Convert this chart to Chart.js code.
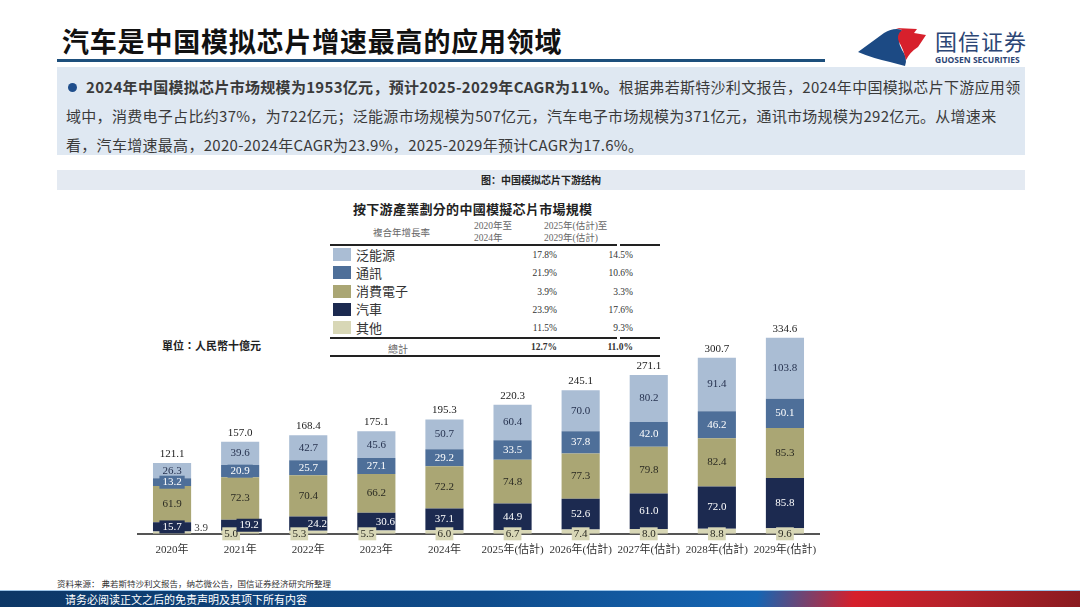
<!DOCTYPE html>
<html>
<head>
<meta charset="utf-8">
<script src="https://cdn.jsdelivr.net/npm/chart.js@4"></script>
<style>
  html, body { margin: 0; padding: 0; background: #fff; }
  body { width: 1080px; height: 607px; position: relative; overflow: hidden; font-family: "Noto Sans CJK SC", sans-serif; }
  .abs { position: absolute; white-space: nowrap; }
  #title { left: 62px; top: 21px; font-size: 27px; font-weight: bold; color: #111; letter-spacing: 0.8px; }
  #rule { left: 57px; top: 59px; width: 768px; height: 3px; background: #1d4f7c; }
  #brand { left: 935px; top: 24px; font-size: 22px; color: #2c4675; letter-spacing: 1px; }
  #brandEn { left: 935px; top: 54px; font-size: 8.5px; font-weight: bold; color: #2c4675; font-family: "Open Sans", sans-serif; }
  #box { left: 57px; top: 67px; width: 968px; height: 88px; background: #dfe8f2; }
  .line { left: 68px; font-size: 15px; color: #3a3a3a; letter-spacing: 0.3px; }
  .dot { display: inline-block; width: 9px; height: 9px; border-radius: 50%; background: #1f4e8c; margin-right: 9px; vertical-align: 1px; }
  #cap { left: 57px; top: 170px; width: 968px; height: 20px; background: #e4eaf2; font-size: 10px; font-weight: bold; color: #222; text-align: center; line-height: 20px; }
  .serif { font-family: "Liberation Serif", "Noto Sans CJK TC", serif; }
  #ctitle { left: 353px; top: 199px; font-size: 13px; font-weight: bold; color: #222; letter-spacing: 0.3px; }
  .hdr { font-size: 9.5px; color: #666; line-height: 12px; }
  .hr { position: absolute; height: 2px; background: #222; }
  .sw { position: absolute; left: 333px; width: 18px; height: 13px; }
  .lab { left: 356px; font-size: 13px; color: #333; line-height: 16px; }
  .v1, .v2 { font-size: 9.5px; color: #333; text-align: right; width: 60px; line-height: 14px; }
  .v1 { left: 497px; }
  .v2 { left: 573px; }
  #unit { left: 162px; top: 337px; font-size: 11px; font-weight: bold; color: #222; }
  #src { left: 57px; top: 577px; font-size: 8.5px; color: #333; }
  #foot { left: 0; top: 590px; width: 1080px; height: 17px;
    background: linear-gradient(100deg, #0d3766 0%, #0f4c8c 45%, #1565b3 70%, #d61f2b 79%, #b5222b 88%, #8a1b20 100%);
    border-top: 1px solid #9cc4e8; }
  #footTxt { left: 65px; top: 591px; font-size: 11px; color: #fff; line-height: 16px; }
  #chartWrap { position: absolute; left: 130px; top: 300px; width: 700px; height: 276px; }
</style>
</head>
<body>
<div id="title" class="abs">汽车是中国模拟芯片增速最高的应用领域</div>
<div id="rule" class="abs"></div>
<svg class="abs" style="left:0;top:0" width="1080" height="80">
  <path d="M858 52 L884 33 Q894 27 902 30 Q896 40 902 50 Q908 58 905 66 L890 62 Q872 58 858 52 Z" fill="#1c4a84"/>
  <path d="M896 28 L917 29 L914 33 L926 35 L918 47 Q910 52 906 60 Q903 48 899 42 Q896 35 902 30 Z" fill="#d7202c"/>
</svg>
<div id="brand" class="abs">国信证券</div>
<div id="brandEn" class="abs">GUOSEN SECURITIES</div>

<div id="box" class="abs"></div>
<div class="abs line" style="top:76px"><span class="dot"></span><b>2024年中国模拟芯片市场规模为1953亿元，预计2025-2029年CAGR为11%。</b>根据弗若斯特沙利文报告，2024年中国模拟芯片下游应用领</div>
<div class="abs line" style="top:105px; left:66px">域中，消费电子占比约37%，为722亿元；泛能源市场规模为507亿元，汽车电子市场规模为371亿元，通讯市场规模为292亿元。从增速来</div>
<div class="abs line" style="top:134px; left:66px">看，汽车增速最高，2020-2024年CAGR为23.9%，2025-2029年预计CAGR为17.6%。</div>

<div id="cap" class="abs">图：中国模拟芯片下游结构</div>

<div id="ctitle" class="abs serif">按下游產業劃分的中國模擬芯片市場規模</div>
<div class="abs hdr" style="left:373px;top:226px">複合年增長率</div>
<div class="abs hdr serif" style="left:474px;top:220px">2020年至<br>2024年</div>
<div class="abs hdr serif" style="left:544px;top:220px">2025年(估計)至<br>2029年(估計)</div>
<div class="hr" style="left:330px;top:244px;width:287px"></div>
<div class="hr" style="left:620px;top:244px;width:40px"></div>
<div id="legendRows"></div>
<div class="hr" style="left:330px;top:337px;width:287px"></div>
<div class="hr" style="left:620px;top:337px;width:40px"></div>
<div class="abs serif" style="left:388px;top:341px;font-size:10px;color:#666">總計</div>
<div class="abs serif v1" style="top:340px;font-weight:bold" id="tot1"></div>
<div class="abs serif v2" style="top:340px;font-weight:bold" id="tot2"></div>
<div class="hr" style="left:330px;top:355px;width:330px"></div>

<div id="unit" class="abs serif">單位：人民幣十億元</div>

<div id="chartWrap"><canvas id="marketChart"></canvas></div>

<div id="src" class="abs">资料来源： 弗若斯特沙利文报告，纳芯微公告，国信证券经济研究所整理</div>
<div id="foot" class="abs"></div>
<div id="footTxt" class="abs">请务必阅读正文之后的免责声明及其项下所有内容</div>

<script>
// 年份 / 类别
const years = ["2020年", "2021年", "2022年", "2023年", "2024年",
  "2025年(估計)", "2026年(估計)", "2027年(估計)", "2028年(估計)", "2029年(估計)"];

// 各下游市场规模（十亿元）
const otherVals = [3.9, 5.0, 5.3, 5.5, 6.0, 6.7, 7.4, 8.0, 8.8, 9.6];
const autoVals = [15.7, 19.2, 24.2, 30.6, 37.1, 44.9, 52.6, 61.0, 72.0, 85.8];
const consumerVals = [61.9, 72.3, 70.4, 66.2, 72.2, 74.8, 77.3, 79.8, 82.4, 85.3];
const commVals = [13.2, 20.9, 25.7, 27.1, 29.2, 33.5, 37.8, 42.0, 46.2, 50.1];
const energyVals = [26.3, 39.6, 42.7, 45.6, 50.7, 60.4, 70.0, 80.2, 91.4, 103.8];
const totalVals = [121.1, 157.0, 168.4, 175.1, 195.3, 220.3, 245.1, 271.1, 300.7, 334.6];

// 图例表格：从上到下
const legendNames = ["泛能源", "通訊", "消費電子", "汽車", "其他"];
const cagr2020to2024 = ["17.8%", "21.9%", "3.9%", "23.9%", "11.5%"];
const cagr2025to2029 = ["14.5%", "10.6%", "3.3%", "17.6%", "9.3%"];
const cagrTotal = ["12.7%", "11.0%"];

const colors = {
  "泛能源": "#aabdd4",
  "通訊": "#4e6f99",
  "消費電子": "#aaa674",
  "汽車": "#1c2a50",
  "其他": "#d8d7b6"
};
const labelColors = {
  "泛能源": "#26324f",
  "通訊": "#ffffff",
  "消費電子": "#2a2a22",
  "汽車": "#ffffff",
  "其他": "#2a2a22"
};

// 表格行
const rowsEl = document.getElementById("legendRows");
legendNames.forEach(function (name, i) {
  const top = 247 + i * 18.3;
  rowsEl.insertAdjacentHTML("beforeend",
    '<div class="sw" style="top:' + (top + 1) + 'px;background:' + colors[name] + '"></div>' +
    '<div class="abs lab" style="top:' + (top - 0.5) + 'px">' + name + '</div>' +
    '<div class="abs serif v1" style="top:' + (top + 1) + 'px">' + cagr2020to2024[i] + '</div>' +
    '<div class="abs serif v2" style="top:' + (top + 1) + 'px">' + cagr2025to2029[i] + '</div>');
});
document.getElementById("tot1").textContent = cagrTotal[0];
document.getElementById("tot2").textContent = cagrTotal[1];

// 数据标签
const labelPlugin = {
  id: "segLabels",
  afterDatasetsDraw(chart) {
    const ctx = chart.ctx;
    ctx.save();
    ctx.font = '11px "Liberation Serif", serif';
    ctx.textAlign = "center";
    ctx.textBaseline = "middle";
    chart.data.datasets.forEach(function (ds, di) {
      const meta = chart.getDatasetMeta(di);
      meta.data.forEach(function (bar, i) {
        const text = ds.data[i].toFixed(1);
        const name = ds.label;
        const h = bar.base - bar.y;
        const tw = ctx.measureText(text).width;
        let x = bar.x;
        let y = (bar.y + bar.base) / 2;
        const autoSmall = autoVals[i] < 32 && i > 0;
        if (name === "其他") {
          if (i === 0) {
            x = bar.x + bar.width / 2 + 10;
            y = bar.base - 6;
            ctx.fillStyle = "#444";
            ctx.fillText(text, x, y);
            return;
          }
          if (autoSmall) x -= 9;
          y = bar.base;
          ctx.fillStyle = colors[name];
          ctx.fillRect(x - tw / 2 - 2, y - 6.5, tw + 4, 13);
        } else if (name === "汽車" && autoSmall) {
          x += 9;
        }
        if (name !== "其他" && h < 14) {
          ctx.fillStyle = colors[name];
          ctx.fillRect(x - tw / 2 - 3, y - 6.5, tw + 6, 13);
        }
        ctx.fillStyle = labelColors[name];
        ctx.fillText(text, x, y);
      });
    });
    // 合计
    const top = chart.getDatasetMeta(chart.data.datasets.length - 1);
    ctx.fillStyle = "#222";
    top.data.forEach(function (bar, i) {
      ctx.fillText(totalVals[i].toFixed(1), bar.x, bar.y - 9);
    });
    ctx.restore();
  }
};

const stackOrder = ["其他", "汽車", "消費電子", "通訊", "泛能源"];
const seriesVals = {
  "其他": otherVals,
  "汽車": autoVals,
  "消費電子": consumerVals,
  "通訊": commVals,
  "泛能源": energyVals
};

new Chart(document.getElementById("marketChart"), {
  type: "bar",
  data: {
    labels: years,
    datasets: stackOrder.map(function (name) {
      return {
        label: name,
        data: seriesVals[name],
        backgroundColor: colors[name],
        borderWidth: 0,
        barPercentage: 0.7,
        categoryPercentage: 0.8
      };
    })
  },
  options: {
    responsive: true,
    maintainAspectRatio: false,
    animation: false,
    layout: { padding: { left: 8, right: 11, top: 23, bottom: 9 } },
    plugins: { legend: { display: false }, tooltip: { enabled: false } },
    scales: {
      x: {
        stacked: true,
        grid: { display: false, drawTicks: false },
        border: { display: true, color: "#555", width: 2 },
        ticks: {
          autoSkip: false,
          maxRotation: 0,
          padding: 10,
          color: "#333",
          font: { family: '"Liberation Serif", "Noto Sans CJK TC", serif', size: 11 }
        }
      },
      y: { stacked: true, display: false, min: 0, max: 360 }
    }
  },
  plugins: [labelPlugin]
});
</script>
</body>
</html>
